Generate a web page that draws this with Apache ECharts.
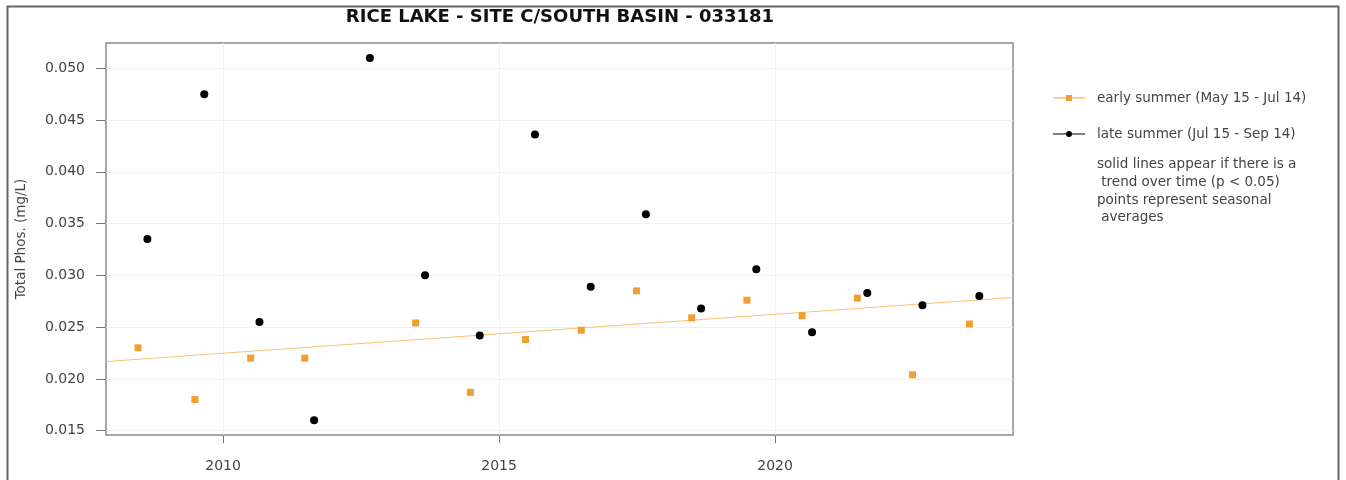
<!DOCTYPE html>
<html>
<head>
<meta charset="utf-8">
<script src="https://cdn.jsdelivr.net/npm/echarts@6/dist/echarts.min.js"></script>
<style>html,body{margin:0;padding:0;background:#fff}#c{width:1346px;height:480px}</style>
</head>
<body>
<div id="c"></div>
<script>
// Early summer (May 15 - Jul 14) seasonal averages
const earlyX = [2008.46, 2009.49, 2010.50, 2011.48, 2013.49, 2014.48, 2015.48, 2016.49, 2017.49, 2018.49, 2019.49, 2020.49, 2021.49, 2022.49, 2023.52];
const earlyY = [0.0230, 0.0180, 0.0220, 0.0220, 0.0254, 0.0187, 0.0238, 0.0247, 0.0285, 0.0259, 0.0276, 0.0261, 0.0278, 0.0204, 0.0253];
// Late summer (Jul 15 - Sep 14) seasonal averages
const lateX = [2008.63, 2009.66, 2010.66, 2011.65, 2012.66, 2013.66, 2014.65, 2015.65, 2016.66, 2017.66, 2018.66, 2019.66, 2020.67, 2021.67, 2022.67, 2023.70];
const lateY = [0.0335, 0.0475, 0.0255, 0.0160, 0.0510, 0.0300, 0.0242, 0.0436, 0.0289, 0.0359, 0.0268, 0.0306, 0.0245, 0.0283, 0.0271, 0.0280];
// Early-summer trend line (endpoints at plot edges)
const trendX = [2007.88, 2024.31];
const trendY = [0.02168, 0.02786];
// Axis ticks
const xTicks = [2010, 2015, 2020];
const yTicks = [0.015, 0.020, 0.025, 0.030, 0.035, 0.040, 0.045, 0.050];
const xRange = [2007.88, 2024.31];
const yRange = [0.01458, 0.05244];

const FONT = 'DejaVu Sans';
const zip = (a, b) => a.map((v, i) => [v, b[i]]);

const chart = echarts.init(document.getElementById('c'), null, {renderer: 'canvas'});
chart.setOption({
  backgroundColor: '#fff',
  animation: false,
  title: [
    {
      text: 'RICE LAKE - SITE C/SOUTH BASIN - 033181',
      left: 560, top: 8, textAlign: 'center', padding: 0,
      textStyle: {fontFamily: FONT, fontSize: 18, fontWeight: 'bold', color: '#111'}
    },
    {
      text: 'solid lines appear if there is a\n trend over time (p < 0.05)\npoints represent seasonal\n averages',
      left: 1097, top: 156, padding: 0,
      textStyle: {fontFamily: FONT, fontSize: 13.5, fontWeight: 'normal', color: '#444', lineHeight: 17.6}
    }
  ],
  legend: {
    orient: 'vertical',
    left: 1053, top: 91, padding: 0,
    itemWidth: 32, itemHeight: 6, itemGap: 22,
    textStyle: {fontFamily: FONT, fontSize: 13.5, color: '#444', padding: [0, 0, 0, 7]},
    data: [
      {name: 'early summer (May 15 - Jul 14)', icon: 'path://M0,2.4H32V3.6H0Z M13,0H19V6H13Z'},
      {name: 'late summer (Jul 15 - Sep 14)', icon: 'path://M0,2.5H32V3.5H0Z M19,3A3,3,0,1,1,13,3A3,3,0,1,1,19,3Z'}
    ]
  },
  graphic: [{
    type: 'rect', left: 5, top: 4,
    shape: {width: 1331, height: 476},
    style: {fill: 'none', stroke: '#666', lineWidth: 2}, silent: true
  }],
  grid: {
    left: 106, right: 333, top: 43, bottom: 45,
    show: true, borderColor: '#8a8a8a', borderWidth: 1.5, containLabel: false
  },
  xAxis: {
    type: 'value', min: xRange[0], max: xRange[1],
    axisLine: {show: false},
    axisTick: {show: true, customValues: xTicks, length: 8, lineStyle: {color: '#777'}},
    axisLabel: {customValues: xTicks, fontFamily: FONT, fontSize: 14, color: '#444', margin: 24, formatter: v => String(Math.round(v))},
    splitLine: {show: true, customValues: xTicks, lineStyle: {color: '#f0f0f0', width: 1}}
  },
  yAxis: {
    type: 'value', min: yRange[0], max: yRange[1],
    name: 'Total Phos. (mg/L)', nameLocation: 'middle', nameGap: 78, nameRotate: 90,
    nameTextStyle: {fontFamily: FONT, fontSize: 13.5, color: '#444'},
    axisLine: {show: false},
    axisTick: {show: true, customValues: yTicks, length: 10, lineStyle: {color: '#777'}},
    axisLabel: {customValues: yTicks, fontFamily: FONT, fontSize: 14, color: '#444', margin: 21, formatter: v => v.toFixed(3)},
    splitLine: {show: true, customValues: yTicks, lineStyle: {color: '#f0f0f0', width: 1}}
  },
  series: [
    {
      name: 'trend', type: 'line', data: zip(trendX, trendY),
      showSymbol: false, symbol: 'none', silent: true,
      lineStyle: {color: '#F7C373', width: 1.2}, z: 1
    },
    {
      name: 'early summer (May 15 - Jul 14)', type: 'scatter', data: zip(earlyX, earlyY),
      symbol: 'rect', symbolSize: 7, itemStyle: {color: '#F0A030', opacity: 1}, z: 3
    },
    {
      name: 'late summer (Jul 15 - Sep 14)', type: 'scatter', data: zip(lateX, lateY),
      symbol: 'circle', symbolSize: 8, itemStyle: {color: '#000', opacity: 1}, z: 4
    }
  ]
});
</script>
</body>
</html>
